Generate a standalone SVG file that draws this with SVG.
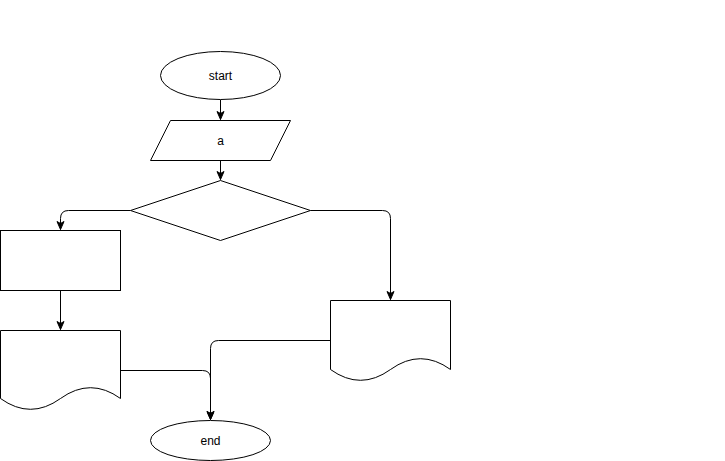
<svg xmlns="http://www.w3.org/2000/svg" width="725" height="461" viewBox="0 0 725 461">
<style>
.n{fill:#fff;stroke:#000;stroke-width:1}
.e{fill:none;stroke:#000;stroke-width:1}
.t{font-family:"Liberation Sans",Arial,sans-serif;font-size:12px;fill:#000;text-anchor:middle;dominant-baseline:central}
</style>
<defs>
<marker id="arr" markerUnits="userSpaceOnUse" markerWidth="10" markerHeight="10" viewBox="0 0 10 10" refX="9" refY="5" orient="auto">
<path d="M1,1.5 L9,5 L1,8.5 L3,5 Z" fill="#000" stroke="#000" stroke-width="1"/>
</marker>
</defs>
<rect width="725" height="461" fill="#fff"/>
<g transform="translate(0.5,0.5)">
<g id="connectors">
<path class="e" d="M220,99 V119" marker-end="url(#arr)"/>
<path class="e" d="M220,160 V179" marker-end="url(#arr)"/>
<path class="e" d="M130,210 H68 Q60,210 60,218 V229" marker-end="url(#arr)"/>
<path class="e" d="M310,210 H382 Q390,210 390,218 V299" marker-end="url(#arr)"/>
<path class="e" d="M60,290 V329" marker-end="url(#arr)"/>
<path class="e" d="M120,370 H202 Q210,370 210,378 V419" marker-end="url(#arr)"/>
<path class="e" d="M330,340 H218 Q210,340 210,348 V419" marker-end="url(#arr)"/>
</g>
<g id="start">
<ellipse class="n" cx="220" cy="75" rx="60" ry="24"/>
<text class="t" x="220" y="75">start</text>
</g>
<g id="input-a">
<path class="n" d="M170,120 H290 L270,160 H150 Z"/>
<text class="t" x="220" y="140">a</text>
</g>
<g id="decision">
<path class="n" d="M220,180 L310,210 L220,240 L130,210 Z"/>
</g>
<g id="process">
<rect class="n" x="0" y="230" width="120" height="60"/>
</g>
<g id="doc-left">
<path class="n" d="M0,330 H120 V398 Q90,376.4 60,398 Q30,419.6 0,398 Z"/>
</g>
<g id="doc-right">
<path class="n" d="M330,300 H450 V369 Q420,347.4 390,369 Q360,390.6 330,369 Z"/>
</g>
<g id="end">
<ellipse class="n" cx="210" cy="440" rx="60" ry="20"/>
<text class="t" x="210" y="440">end</text>
</g>
</g>
</svg>
